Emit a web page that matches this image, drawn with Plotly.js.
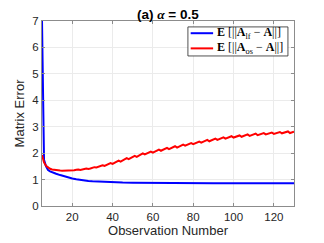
<!DOCTYPE html>
<html><head><meta charset="utf-8">
<script src="https://cdn.plot.ly/plotly-3.0.1.min.js"></script>
<style>html,body{margin:0;padding:0;background:#fff}#c{width:324px;height:243px}</style>
</head><body><div id="c"></div>
<script>
const blueX = [5,6,7,8,9,10,12,14,16,18,20,22,25,28,30,33,36,40,45,50,60,70,80,90,100,110,120,130];
const blueY = [7.0,1.75,1.50,1.36,1.31,1.27,1.22,1.17,1.12,1.08,1.04,1.01,0.97,0.95,0.935,0.92,0.91,0.895,0.885,0.88,0.87,0.865,0.86,0.86,0.86,0.86,0.86,0.86];

const redX = [5,6,7,8,9,10,11,12,13,14,15,16,17,18,19,
  20,21,22,23,24,25,26,27,28,29,30,31,32,33,34,35,36,37,38,39,40,
  41,42,43,44,45,46,47,48,49,50,51,52,53,54,55,56,57,58,59,60,
  61,62,63,64,65,66,67,68,69,70,71,72,73,74,75,76,77,78,79,80,
  81,82,83,84,85,86,87,88,89,90,91,92,93,94,95,96,97,98,99,100,
  101,102,103,104,105,106,107,108,109,110,111,112,113,114,115,116,117,118,119,120,
  121,122,123,124,125,126,127,128,129,130];
const redY = [1.93,1.65,1.52,1.45,1.41,1.38,1.365,1.355,1.345,1.34,1.335,1.335,1.335,1.34,1.34,
  1.34,1.35,1.37,1.38,1.36,1.37,1.40,1.42,1.40,1.42,1.45,1.47,1.46,1.48,1.51,1.54,1.52,1.55,1.59,1.62,1.59,
  1.63,1.67,1.72,1.68,1.72,1.76,1.81,1.77,1.82,1.86,1.90,1.86,1.91,1.95,1.99,1.95,1.99,2.02,2.06,2.02,
  2.06,2.10,2.13,2.09,2.13,2.16,2.20,2.15,2.19,2.22,2.26,2.21,2.25,2.28,2.32,2.28,2.31,2.35,2.38,2.34,
  2.37,2.41,2.44,2.40,2.43,2.46,2.50,2.45,2.49,2.52,2.55,2.50,2.54,2.57,2.60,2.55,2.58,2.61,2.64,2.59,
  2.62,2.65,2.67,2.62,2.65,2.68,2.71,2.65,2.68,2.71,2.74,2.68,2.71,2.73,2.76,2.71,2.73,2.76,2.78,2.73,
  2.75,2.78,2.80,2.75,2.77,2.79,2.82,2.76,2.79,2.81];

const xTicks = [20,40,60,80,100,120];
const yTicks = [0,1,2,3,4,5,6,7];
const nameBlue = "<b>E</b> [||<b>A</b><sub>lf</sub> − <b>A</b>||]";
const nameRed = "<b>E</b> [||<b>A</b><sub>os</sub> − <b>A</b>||]";
const titleText = "<b>(a) <span style=\"font-family:'Liberation Serif',serif\"><i>α</i></span> = 0.5</b>";
const colors = ['#0000ff', '#ff0000'];

const sans = 'Liberation Sans, Arial, sans-serif';
const axisCommon = {
  showline:true, linecolor:'#8c8c8c', linewidth:1, mirror:'ticks',
  ticks:'inside', ticklen:3, tickcolor:'#8c8c8c',
  showgrid:true, gridcolor:'#ebebeb', gridwidth:1, zeroline:false,
  tickfont:{family:sans, size:11.5, color:'#262626'}
};

const data = [
  {x:blueX, y:blueY, type:'scatter', mode:'lines', name:nameBlue, line:{color:colors[0], width:2}},
  {x:redX, y:redY, type:'scatter', mode:'lines', name:nameRed, line:{color:colors[1], width:2}}
];

// manual legend (paper coords)
const leg = {x0:0.579, x1:0.976, y0:0.811, y1:0.968, lx0:0.590, lx1:0.679, tx:0.688, rows:[0.934, 0.852]};
const shapes = [
  {type:'rect', xref:'paper', yref:'paper', x0:leg.x0, x1:leg.x1, y0:leg.y0, y1:leg.y1,
   fillcolor:'#fff', line:{color:'#262626', width:0.8}, layer:'above'}
];
const annotations = [];
[nameBlue, nameRed].forEach((nm, i) => {
  shapes.push({type:'line', xref:'paper', yref:'paper', x0:leg.lx0, x1:leg.lx1, y0:leg.rows[i], y1:leg.rows[i],
    line:{color:colors[i], width:2}, layer:'above'});
  annotations.push({xref:'paper', yref:'paper', x:leg.tx, y:leg.rows[i], xanchor:'left', yanchor:'middle',
    text:nm, showarrow:false, font:{family:'Liberation Serif, DejaVu Serif, serif', size:12, color:'#000'}});
});

const layout = {
  width:324, height:243,
  margin:{l:42, r:30, t:21, b:37},
  paper_bgcolor:'#fff', plot_bgcolor:'#fff',
  title:{text:titleText, x:0.518, xanchor:'center', y:0.94, yanchor:'middle',
    font:{family:sans, size:13.5, color:'#000'}},
  xaxis:Object.assign({}, axisCommon, {range:[5,130], tickvals:xTicks, ticktext:xTicks.map(String),
    title:{text:'Observation Number', standoff:2, font:{family:sans, size:13, color:'#262626'}}}),
  yaxis:Object.assign({}, axisCommon, {range:[0,7], tickvals:yTicks, ticktext:yTicks.map(String),
    title:{text:'Matrix Error', standoff:4, font:{family:sans, size:13, color:'#262626'}}}),
  showlegend:false,
  shapes:shapes,
  annotations:annotations
};

Plotly.newPlot('c', data, layout, {staticPlot:true, displayModeBar:false});
</script></body></html>
